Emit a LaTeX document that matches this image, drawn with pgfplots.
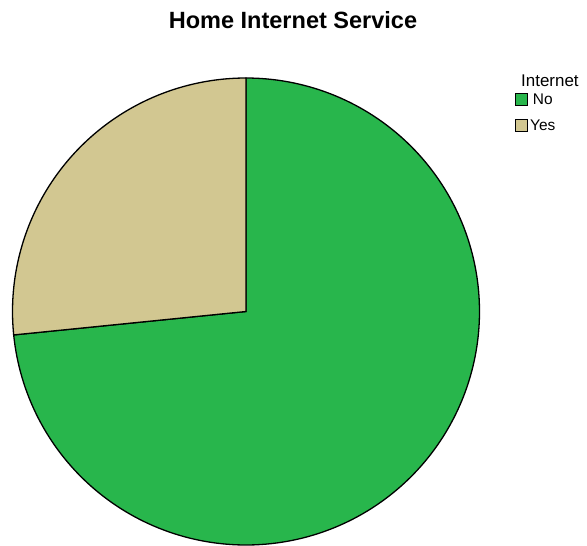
\documentclass[border=0pt]{standalone}
\usepackage{pgfplots}
\usepackage{pgfplotstable}
\pgfplotsset{compat=1.18}
\usepackage{fontspec}
\setmainfont{Liberation Sans}
\definecolor{pieNo}{RGB}{40,182,76}
\definecolor{pieYes}{RGB}{210,199,145}
\pgfplotstableread{
label value
No 73.4
Yes 26.6
}\piedata
\begin{document}%
\begin{tikzpicture}
\pgfplotstablegetelem{0}{value}\of\piedata \let\vNo\pgfplotsretval
\pgfplotstablegetelem{1}{value}\of\piedata \let\vYes\pgfplotsretval
\pgfmathsetmacro{\aYes}{90+3.6*\vYes}
\pgfmathsetmacro{\aNoEnd}{\aYes+3.6*\vNo}
\begin{axis}[
  width=587bp, height=546bp, scale only axis,
  xmin=0, xmax=587, ymin=0, ymax=546, y dir=reverse,
  hide axis, clip=false,
  legend image code/.code={\draw[#1,draw=black,line width=1bp] (0bp,-6bp) rectangle (12bp,6bp);},
  legend style={at={(axis cs:515,91.5)}, anchor=north west, draw=none, fill=none,
    inner sep=0pt, font=\fontsize{15.5}{18}\selectfont, row sep=10bp,
    /tikz/every even column/.append style={column sep=10bp}},
]
\addplot[fill=pieNo, draw=black, line width=1.3bp, domain=\aYes:\aNoEnd, samples=200, variable=\t]
  ({246+233.5*cos(\t)}, {311.5-233.5*sin(\t)}) -- (axis cs:246,311.5) -- cycle;
\addlegendentry{No}
\addplot[fill=pieYes, draw=black, line width=1.3bp, domain=90:\aYes, samples=100, variable=\t]
  ({246+233.5*cos(\t)}, {311.5-233.5*sin(\t)}) -- (axis cs:246,311.5) -- cycle;
\addlegendentry{Yes}
\node[font=\fontsize{23.6}{27}\selectfont\bfseries] at (axis cs:293,20) {Home Internet Service};
\node[font=\fontsize{17}{20}\selectfont, anchor=west, inner sep=0pt] at (axis cs:521,81) {Internet};
\end{axis}
\pgfresetboundingbox
\useasboundingbox (current axis.south west) rectangle (current axis.north east);
\end{tikzpicture}%
\end{document}
